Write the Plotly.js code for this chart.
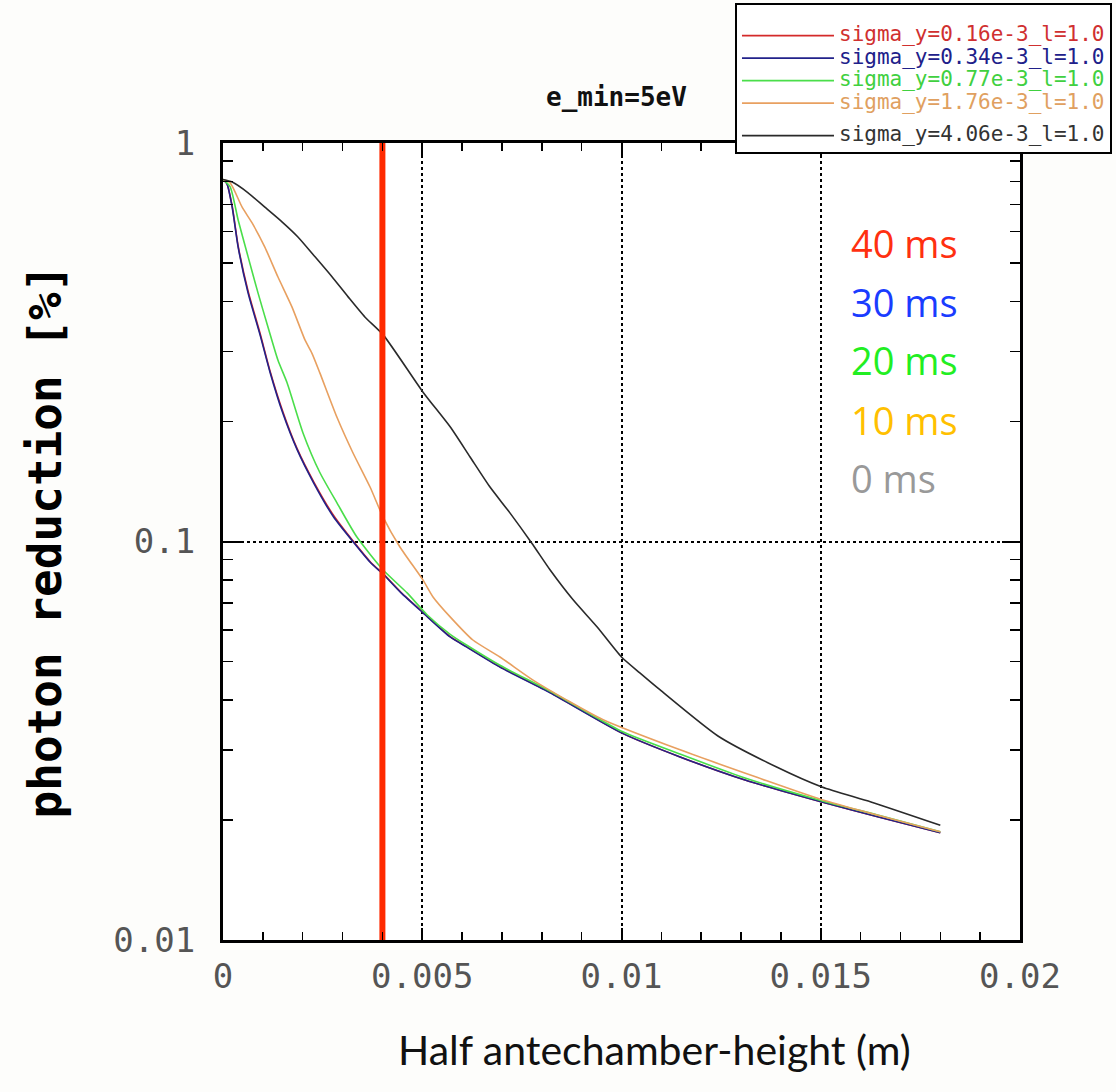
<!DOCTYPE html>
<html>
<head>
<meta charset="utf-8">
<script src="https://cdn.plot.ly/plotly-3.0.1.min.js"></script>
<style>html,body{margin:0;padding:0;background:#fdfdfb;}</style>
</head>
<body>
<div id="chart" style="width:1116px;height:1092px;"></div>
<script>
// ---- data (x in metres, y = photon reduction) ----
const seriesNames = [
  'sigma_y=0.16e-3_l=1.0',
  'sigma_y=0.34e-3_l=1.0',
  'sigma_y=0.77e-3_l=1.0',
  'sigma_y=1.76e-3_l=1.0',
  'sigma_y=4.06e-3_l=1.0'
];
const seriesColors = ['#d42a2a', '#22228a', '#4ade4a', '#e8a060', '#2a2a2a'];
const legendTextColors = ['#d03030', '#20208a', '#40d040', '#e0a060', '#333333'];

const xRed = [0, 0.0001, 0.00023, 0.00038, 0.00063, 0.00093, 0.00118, 0.0015, 0.00186, 0.00228, 0.00278, 0.00329, 0.00371, 0.00404, 0.00447, 0.00502, 0.0057, 0.00612, 0.00695, 0.00821, 0.01, 0.01147, 0.0131, 0.01503, 0.0165, 0.018];
const yRed = [0.81, 0.79, 0.695, 0.552, 0.425, 0.333, 0.268, 0.212, 0.171, 0.141, 0.116, 0.0995, 0.0886, 0.0826, 0.0745, 0.0664, 0.0577, 0.0544, 0.0485, 0.0418, 0.0331, 0.0288, 0.0252, 0.0222, 0.0203, 0.0186];

const xBlue = [0, 0.0001, 0.00023, 0.00038, 0.00063, 0.00093, 0.00118, 0.0015, 0.00186, 0.00228, 0.00278, 0.00329, 0.00371, 0.00404, 0.00447, 0.00502, 0.0057, 0.00612, 0.00695, 0.00821, 0.01, 0.01147, 0.0131, 0.01503, 0.0165, 0.018];
const yBlue = [0.81, 0.79, 0.69, 0.548, 0.42, 0.33, 0.266, 0.21, 0.17, 0.14, 0.115, 0.0991, 0.0883, 0.0824, 0.0743, 0.0662, 0.0576, 0.0543, 0.0484, 0.0417, 0.0331, 0.0288, 0.0252, 0.0222, 0.0203, 0.0186];

const xGreen = [0, 0.00018, 0.00038, 0.00063, 0.00088, 0.00113, 0.00138, 0.00161, 0.00201, 0.00243, 0.00286, 0.00336, 0.00402, 0.00462, 0.00512, 0.0057, 0.00612, 0.00695, 0.00821, 0.01, 0.0115, 0.0131, 0.015, 0.0165, 0.018];
const yGreen = [0.81, 0.776, 0.641, 0.518, 0.42, 0.345, 0.285, 0.25, 0.187, 0.149, 0.125, 0.1026, 0.0848, 0.0743, 0.0655, 0.0585, 0.0549, 0.0489, 0.0421, 0.0334, 0.0292, 0.0255, 0.0224, 0.0205, 0.0187];

const xOrange = [0, 0.00018, 0.00048, 0.00073, 0.00105, 0.00138, 0.00173, 0.00206, 0.00223, 0.00243, 0.00286, 0.00326, 0.00369, 0.00402, 0.00444, 0.00502, 0.00527, 0.0057, 0.00627, 0.00695, 0.00778, 0.00863, 0.00954, 0.01147, 0.0134, 0.01503, 0.018];
const yOrange = [0.81, 0.794, 0.69, 0.63, 0.548, 0.461, 0.388, 0.32, 0.297, 0.265, 0.205, 0.167, 0.137, 0.115, 0.0969, 0.080, 0.0726, 0.0647, 0.0566, 0.0513, 0.0449, 0.040, 0.0357, 0.030, 0.0256, 0.0225, 0.0187];

const xBlack = [0, 0.00023, 0.00063, 0.00105, 0.00148, 0.00188, 0.00231, 0.00274, 0.00314, 0.00356, 0.00402, 0.00502, 0.0057, 0.0062, 0.0067, 0.0072, 0.00775, 0.00821, 0.00878, 0.00939, 0.01, 0.01046, 0.01097, 0.01242, 0.01388, 0.01503, 0.01626, 0.018];
const yBlack = [0.81, 0.798, 0.75, 0.69, 0.634, 0.581, 0.518, 0.461, 0.411, 0.366, 0.33, 0.237, 0.194, 0.163, 0.137, 0.118, 0.099, 0.0848, 0.0715, 0.061, 0.0513, 0.0468, 0.0424, 0.0325, 0.0272, 0.0242, 0.0222, 0.0194];

const xSeries = [xRed, xBlue, xGreen, xOrange, xBlack];
const ySeries = [yRed, yBlue, yGreen, yOrange, yBlack];

// vertical marker at the chosen half-height
const markerX = 0.004;
const markerYRange = [0.01, 1];

// tick labels
const xTickVals = [0, 0.005, 0.01, 0.015, 0.02];
const xTickText = ['0', '0.005', '0.01', '0.015', '0.02'];
const yTickVals = [0.01, 0.1, 1];
const yTickText = ['0.01', '0.1', '1'];

// time labels
const timeLabels = ['40 ms', '30 ms', '20 ms', '10 ms', '0 ms'];
const timeColors = ['#ff3010', '#1a3cff', '#22ee22', '#ffc000', '#999999'];

// ---- traces ----
const traces = [];
for (let i = 0; i < seriesNames.length; i++) {
  traces.push({
    type: 'scatter', mode: 'lines',
    x: xSeries[i], y: ySeries[i],
    name: '<span style="color:' + legendTextColors[i] + ';font-size:21px">' + seriesNames[i] + '</span>',
    legendgroup: i < 4 ? 'g1' : 'g2',
    line: {color: seriesColors[i], width: 1.6, shape: 'spline', smoothing: 0.6}
  });
}
traces.push({
  type: 'scatter', mode: 'lines',
  x: [markerX, markerX], y: markerYRange,
  showlegend: false, hoverinfo: 'skip',
  line: {color: '#ff2a00', width: 6}
});

// ---- annotations ----
const annotations = [];
const timeY = [0.8745, 0.8005, 0.7277, 0.6524, 0.5797];
for (let i = 0; i < timeLabels.length; i++) {
  annotations.push({
    xref: 'paper', yref: 'paper', x: 0.786, y: timeY[i],
    xanchor: 'left', yanchor: 'middle', showarrow: false,
    text: timeLabels[i],
    font: {family: 'Open Sans', size: 38, color: timeColors[i]}
  });
}
annotations.push({
  xref: 'paper', yref: 'paper', x: 0.494, y: 1.0577,
  xanchor: 'center', yanchor: 'middle', showarrow: false,
  text: 'e_min=5eV',
  font: {family: 'DejaVu Sans Mono', size: 26, color: '#111', weight: 'bold'}
});
annotations.push({
  xref: 'paper', yref: 'paper', x: 0.542, y: -0.138,
  xanchor: 'center', yanchor: 'middle', showarrow: false,
  text: 'Half antechamber-height (m)',
  font: {family: 'Lato', size: 41, color: '#111'}
});

const layout = {
  width: 1116, height: 1092,
  margin: {l: 223, r: 96, t: 143, b: 152, autoexpand: false},
  paper_bgcolor: '#fdfdfb',
  plot_bgcolor: '#ffffff',
  showlegend: true,
  legend: {
    xref: 'container', yref: 'container',
    x: 0.9964, xanchor: 'right', y: 0.9972, yanchor: 'top',
    bgcolor: '#ffffff', bordercolor: '#000', borderwidth: 2,
    font: {family: 'DejaVu Sans Mono', size: 15},
    title: {text: ' ', font: {size: 11}},
    itemwidth: 92, tracegroupgap: 10
  },
  xaxis: {
    range: [0, 0.02], automargin: false,
    tickmode: 'array', tickvals: xTickVals, ticktext: xTickText,
    ticks: 'inside', ticklen: 12, tickwidth: 2, tickcolor: '#000',
    showline: true, linewidth: 3, linecolor: '#000', mirror: 'ticks',
    showgrid: true, gridcolor: '#000', gridwidth: 2, griddash: 'dot',
    zeroline: false,
    minor: {tickmode: 'linear', tick0: 0, dtick: 0.001, ticks: 'inside', ticklen: 8, tickwidth: 1.5, tickcolor: '#000', showgrid: false},
    tickfont: {family: 'DejaVu Sans Mono', size: 34, color: '#555'},
    ticklabelstandoff: 4
  },
  yaxis: {
    type: 'log', range: [-2, 0], automargin: false,
    tickmode: 'array', tickvals: yTickVals, ticktext: yTickText,
    ticks: 'inside', ticklen: 18, tickwidth: 2, tickcolor: '#000',
    showline: true, linewidth: 3, linecolor: '#000', mirror: 'ticks',
    showgrid: true, gridcolor: '#000', gridwidth: 2, griddash: 'dot',
    zeroline: false,
    minor: {dtick: 'D1', ticks: 'inside', ticklen: 10, tickwidth: 1.5, tickcolor: '#000', showgrid: false},
    tickfont: {family: 'DejaVu Sans Mono', size: 34, color: '#555'},
    ticklabelstandoff: 18,
    title: {text: 'photon reduction [%]', standoff: 38,
            font: {family: 'DejaVu Sans Mono', size: 46, color: '#000', weight: 'bold'}}
  },
  annotations: annotations
};

Plotly.newPlot('chart', traces, layout, {displayModeBar: false, staticPlot: true});
</script>
</body>
</html>
